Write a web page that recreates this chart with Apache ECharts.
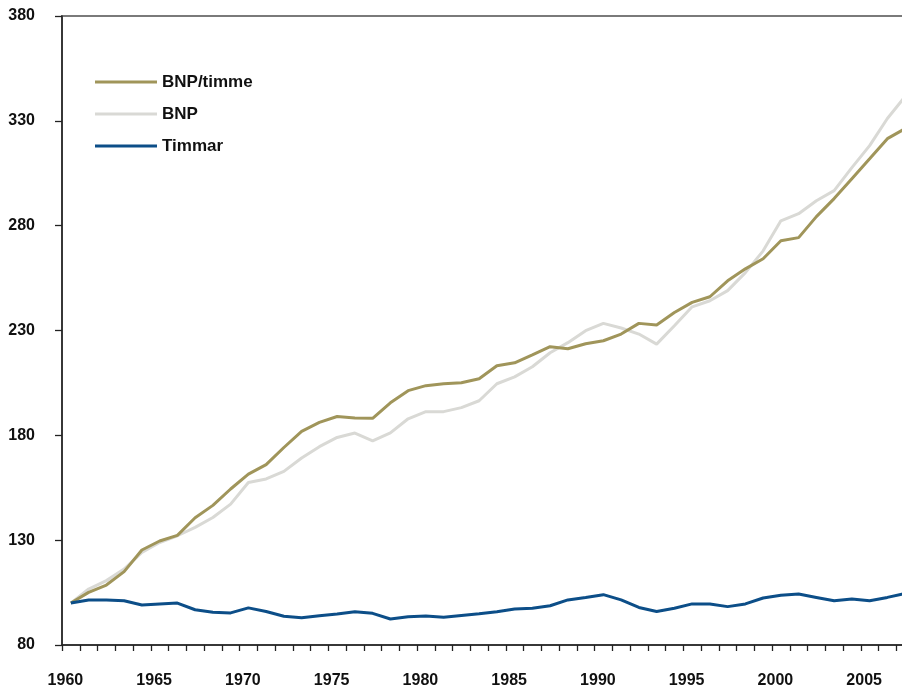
<!DOCTYPE html>
<html>
<head>
<meta charset="utf-8">
<script src="https://cdn.jsdelivr.net/npm/echarts@6/dist/echarts.min.js"></script>
<style>
  html, body { margin: 0; padding: 0; background: #ffffff; overflow: hidden; width: 902px; height: 689px; }
  #chart { width: 914px; height: 689px; }
</style>
</head>
<body>
<div id="chart"></div>
<script>
const years = [];
for (let y = 1960; y <= 2007; y++) years.push(String(y));

const bnpTimme = [100, 105.1, 108.6, 115.0, 125.3, 129.6, 132.3, 140.7, 146.6, 154.4,
  161.5, 166.0, 174.2, 181.9, 186.2, 189.0, 188.3, 188.1, 195.5, 201.3,
  203.7, 204.6, 205.1, 207.0, 213.2, 214.6, 218.4, 222.3, 221.3, 223.7,
  225.1, 228.3, 233.4, 232.6, 238.6, 243.4, 246.1, 253.7, 259.4, 264.2,
  272.8, 274.3, 284.3, 292.9, 302.4, 311.9, 321.5, 326.3];

const bnp = [100, 106.7, 110.7, 116.2, 124.2, 128.9, 132.1, 136.1, 140.8, 147.2,
  157.5, 159.2, 162.8, 169.2, 174.6, 179.0, 181.1, 177.4, 181.2, 187.9,
  191.3, 191.3, 193.2, 196.5, 204.6, 207.9, 212.7, 219.4, 224.2, 229.9,
  233.4, 231.2, 228.3, 223.5, 232.3, 241.3, 244.2, 249.0, 257.6, 268.0,
  282.3, 285.7, 291.9, 296.7, 307.7, 318.2, 331.1, 341.6];

const timmar = [100.0, 101.5, 101.5, 101.1, 99.1, 99.6, 100.0, 96.8, 95.6, 95.3,
  97.7, 96.0, 93.7, 93.0, 94.0, 94.8, 95.9, 95.1, 92.4, 93.5,
  93.8, 93.2, 94.1, 94.9, 95.9, 97.2, 97.5, 98.7, 101.5, 102.7,
  104.0, 101.5, 97.9, 96.0, 97.5, 99.6, 99.6, 98.3, 99.6, 102.4,
  103.7, 104.3, 102.7, 101.1, 101.9, 101.1, 102.7, 104.6];

const seriesNames = ['BNP/timme', 'BNP', 'Timmar'];
const yTicks = { min: 80, max: 380, interval: 50 };

const FONT = '"Liberation Sans", Arial, sans-serif';
const chart = echarts.init(document.getElementById('chart'), null, { renderer: 'canvas' });

chart.setOption({
  animation: false,
  backgroundColor: '#ffffff',
  grid: {
    left: 62, top: 16, bottom: 43, right: 0,
    show: true, borderColor: '#7a7a7a', borderWidth: 2, backgroundColor: 'transparent'
  },
  legend: {
    orient: 'vertical',
    left: 95, top: 73, padding: 0,
    itemWidth: 62, itemHeight: 3, itemGap: 14,
    icon: 'rect',
    textStyle: { fontFamily: FONT, fontWeight: 'bold', fontSize: 17, color: '#111', lineHeight: 18 },
    data: seriesNames
  },
  xAxis: {
    type: 'category',
    data: years,
    boundaryGap: true,
    axisLine: { lineStyle: { color: '#222', width: 1.5 } },
    axisTick: { show: true, interval: 0, length: 6, lineStyle: { color: '#222', width: 1.3 } },
    axisLabel: {
      interval: 4, margin: 28, padding: [0, 11, 0, 0],
      fontFamily: FONT, fontWeight: 'bold', fontSize: 16, color: '#111'
    },
    splitLine: { show: false }
  },
  yAxis: {
    type: 'value',
    min: yTicks.min, max: yTicks.max, interval: yTicks.interval,
    axisLine: { show: true, lineStyle: { color: '#222', width: 1.5 } },
    axisTick: { show: true, length: 7, lineStyle: { color: '#222', width: 1.3 } },
    axisLabel: { margin: 27, padding: [3, 0, 0, 0], fontFamily: FONT, fontWeight: 'bold', fontSize: 16, color: '#111' },
    splitLine: { show: false }
  },
  series: [
    { name: seriesNames[0], type: 'line', data: bnpTimme, symbol: 'none', color: '#a0955a',
      lineStyle: { width: 3, color: '#a0955a' }, z: 3 },
    { name: seriesNames[1], type: 'line', data: bnp, symbol: 'none', color: '#d9d9d5',
      lineStyle: { width: 3, color: '#d9d9d5' }, z: 2 },
    { name: seriesNames[2], type: 'line', data: timmar, symbol: 'none', color: '#0c4e88',
      lineStyle: { width: 3, color: '#0c4e88' }, z: 4 }
  ]
});
</script>
</body>
</html>
